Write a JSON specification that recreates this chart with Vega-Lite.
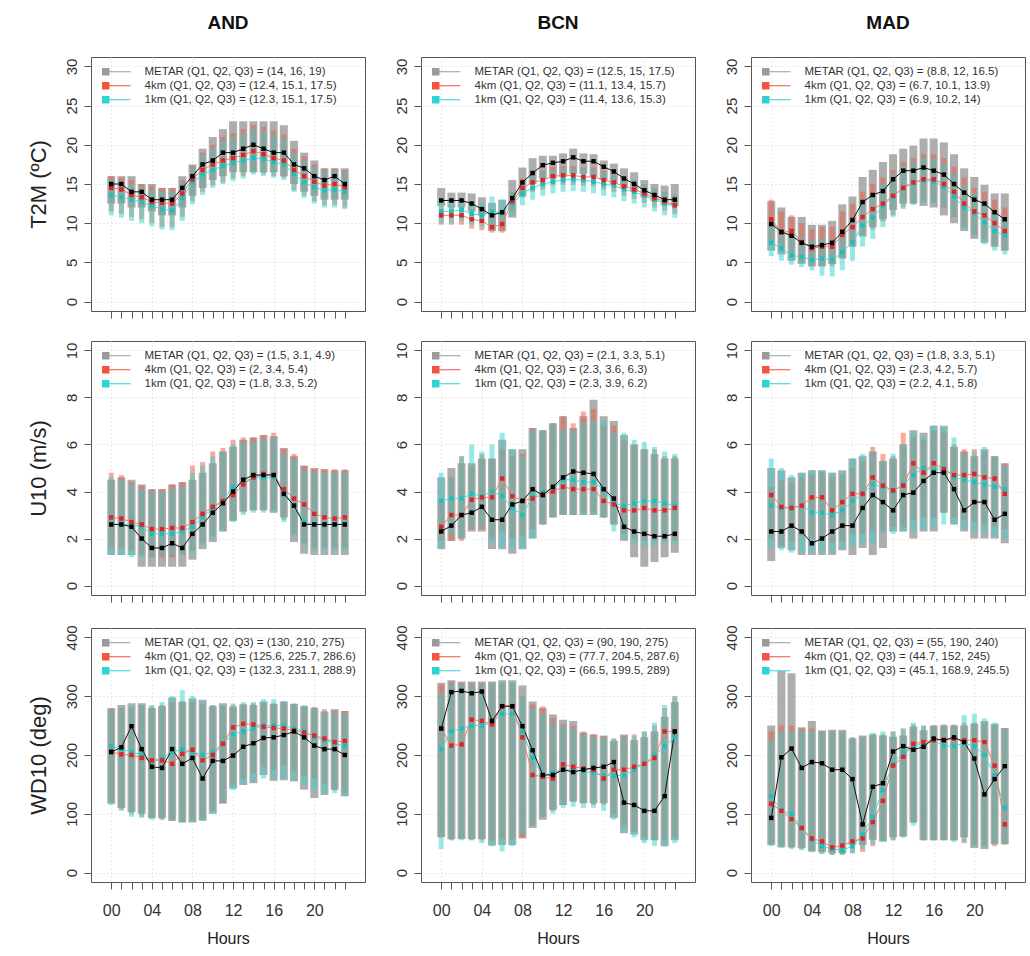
{
"$schema": "https://vega.github.io/schema/vega-lite/v6.json",
"background": "white",
"padding": {"left": 26, "top": 13, "right": 0, "bottom": 0},
"spacing": 21,
"resolve": {"scale": {"color": "independent"}, "legend": {"color": "independent"}},
"datasets": {
"AND_T2M": [
{"hour":0,"obs_q1":12.5,"obs_q2":15,"obs_q3":16,"k4_q1":11.5,"k4_q2":14.5,"k4_q3":16,"k1_q1":11,"k1_q2":13.6,"k1_q3":15.5},
{"hour":1,"obs_q1":12.5,"obs_q2":15,"obs_q3":16,"k4_q1":11.2,"k4_q2":14.3,"k4_q3":15.8,"k1_q1":10.7,"k1_q2":13.3,"k1_q3":15.3},
{"hour":2,"obs_q1":12,"obs_q2":14,"obs_q3":16,"k4_q1":10.8,"k4_q2":13.6,"k4_q3":15.5,"k1_q1":10.3,"k1_q2":13,"k1_q3":15},
{"hour":3,"obs_q1":12,"obs_q2":14,"obs_q3":15,"k4_q1":10.5,"k4_q2":13.3,"k4_q3":15,"k1_q1":10,"k1_q2":12.7,"k1_q3":14.6},
{"hour":4,"obs_q1":11.5,"obs_q2":13,"obs_q3":15,"k4_q1":10,"k4_q2":12.7,"k4_q3":14.8,"k1_q1":9.6,"k1_q2":12.2,"k1_q3":14.3},
{"hour":5,"obs_q1":11,"obs_q2":13,"obs_q3":14.5,"k4_q1":9.5,"k4_q2":12.6,"k4_q3":14.5,"k1_q1":9.2,"k1_q2":11.8,"k1_q3":14},
{"hour":6,"obs_q1":11,"obs_q2":13,"obs_q3":14.5,"k4_q1":9.5,"k4_q2":12.5,"k4_q3":14.5,"k1_q1":9.1,"k1_q2":11.6,"k1_q3":14},
{"hour":7,"obs_q1":12,"obs_q2":14.5,"obs_q3":16,"k4_q1":10.8,"k4_q2":13.8,"k4_q3":15.5,"k1_q1":10.3,"k1_q2":13.2,"k1_q3":15.2},
{"hour":8,"obs_q1":13.5,"obs_q2":16,"obs_q3":17.5,"k4_q1":12.8,"k4_q2":15.6,"k4_q3":17.3,"k1_q1":12.4,"k1_q2":15.2,"k1_q3":17},
{"hour":9,"obs_q1":14.5,"obs_q2":17.5,"obs_q3":19.5,"k4_q1":14,"k4_q2":16.8,"k4_q3":19,"k1_q1":13.6,"k1_q2":16.2,"k1_q3":18.7},
{"hour":10,"obs_q1":15.5,"obs_q2":18,"obs_q3":21,"k4_q1":14.8,"k4_q2":17.5,"k4_q3":20,"k1_q1":14.5,"k1_q2":16.8,"k1_q3":19.6},
{"hour":11,"obs_q1":16,"obs_q2":19,"obs_q3":22,"k4_q1":15.2,"k4_q2":18,"k4_q3":21,"k1_q1":15,"k1_q2":17.3,"k1_q3":20.5},
{"hour":12,"obs_q1":16.5,"obs_q2":19,"obs_q3":23,"k4_q1":15.7,"k4_q2":18.3,"k4_q3":21.5,"k1_q1":15.4,"k1_q2":17.7,"k1_q3":21},
{"hour":13,"obs_q1":16.5,"obs_q2":19.5,"obs_q3":23,"k4_q1":16,"k4_q2":18.7,"k4_q3":22,"k1_q1":15.7,"k1_q2":18,"k1_q3":21.5},
{"hour":14,"obs_q1":16.5,"obs_q2":20,"obs_q3":23,"k4_q1":16.5,"k4_q2":19.2,"k4_q3":22.5,"k1_q1":16.2,"k1_q2":18.3,"k1_q3":22},
{"hour":15,"obs_q1":16.5,"obs_q2":19.5,"obs_q3":23,"k4_q1":16.3,"k4_q2":18.8,"k4_q3":22.3,"k1_q1":16,"k1_q2":18.2,"k1_q3":21.8},
{"hour":16,"obs_q1":16.5,"obs_q2":19,"obs_q3":23,"k4_q1":16,"k4_q2":18.3,"k4_q3":21.8,"k1_q1":15.8,"k1_q2":17.8,"k1_q3":21.3},
{"hour":17,"obs_q1":16,"obs_q2":19,"obs_q3":22.5,"k4_q1":15.8,"k4_q2":18,"k4_q3":21.3,"k1_q1":15.5,"k1_q2":17.5,"k1_q3":20.8},
{"hour":18,"obs_q1":15,"obs_q2":17.5,"obs_q3":20.5,"k4_q1":14.2,"k4_q2":16.8,"k4_q3":19.5,"k1_q1":14,"k1_q2":16.3,"k1_q3":19},
{"hour":19,"obs_q1":14,"obs_q2":17,"obs_q3":19,"k4_q1":13.5,"k4_q2":16,"k4_q3":18.5,"k1_q1":13.2,"k1_q2":15.2,"k1_q3":18},
{"hour":20,"obs_q1":13.5,"obs_q2":16,"obs_q3":18,"k4_q1":12.8,"k4_q2":15.3,"k4_q3":17.5,"k1_q1":12.5,"k1_q2":14.6,"k1_q3":17.2},
{"hour":21,"obs_q1":13,"obs_q2":15.5,"obs_q3":17,"k4_q1":12.3,"k4_q2":14.8,"k4_q3":17,"k1_q1":12,"k1_q2":14.2,"k1_q3":16.7},
{"hour":22,"obs_q1":13,"obs_q2":16,"obs_q3":17,"k4_q1":12.3,"k4_q2":15,"k4_q3":17,"k1_q1":12,"k1_q2":14.3,"k1_q3":16.7},
{"hour":23,"obs_q1":13,"obs_q2":15,"obs_q3":17,"k4_q1":12,"k4_q2":14.6,"k4_q3":16.8,"k1_q1":11.8,"k1_q2":14,"k1_q3":16.5}
],
"BCN_T2M": [
{"hour":0,"obs_q1":12.2,"obs_q2":12.9,"obs_q3":14.5,"k4_q1":9.8,"k4_q2":11,"k4_q3":12.2,"k1_q1":10,"k1_q2":11.5,"k1_q3":13},
{"hour":1,"obs_q1":12,"obs_q2":12.9,"obs_q3":13.9,"k4_q1":9.8,"k4_q2":11,"k4_q3":12.2,"k1_q1":10,"k1_q2":11.5,"k1_q3":13},
{"hour":2,"obs_q1":12,"obs_q2":12.9,"obs_q3":13.9,"k4_q1":9.8,"k4_q2":11,"k4_q3":12.2,"k1_q1":10.2,"k1_q2":11.7,"k1_q3":13.2},
{"hour":3,"obs_q1":11.5,"obs_q2":12.5,"obs_q3":13.8,"k4_q1":9.3,"k4_q2":10.5,"k4_q3":11.8,"k1_q1":9.8,"k1_q2":11.2,"k1_q3":12.8},
{"hour":4,"obs_q1":11,"obs_q2":11.8,"obs_q3":13.3,"k4_q1":9.1,"k4_q2":10.3,"k4_q3":11.6,"k1_q1":9.5,"k1_q2":11,"k1_q3":12.6},
{"hour":5,"obs_q1":9,"obs_q2":11,"obs_q3":12.6,"k4_q1":8.8,"k4_q2":9.5,"k4_q3":11,"k1_q1":9.8,"k1_q2":11.5,"k1_q3":13.4},
{"hour":6,"obs_q1":9,"obs_q2":11.4,"obs_q3":13,"k4_q1":8.8,"k4_q2":9.9,"k4_q3":11.3,"k1_q1":9.6,"k1_q2":11.3,"k1_q3":13},
{"hour":7,"obs_q1":10.7,"obs_q2":13.2,"obs_q3":15.5,"k4_q1":11.5,"k4_q2":12.8,"k4_q3":14,"k1_q1":11,"k1_q2":12.5,"k1_q3":14},
{"hour":8,"obs_q1":13.4,"obs_q2":15.2,"obs_q3":17.1,"k4_q1":13.3,"k4_q2":14.5,"k4_q3":15.7,"k1_q1":12.3,"k1_q2":13.8,"k1_q3":15.3},
{"hour":9,"obs_q1":15,"obs_q2":16.4,"obs_q3":18.3,"k4_q1":14,"k4_q2":15.2,"k4_q3":16.4,"k1_q1":13,"k1_q2":14.5,"k1_q3":16},
{"hour":10,"obs_q1":15.7,"obs_q2":17.4,"obs_q3":18.6,"k4_q1":14.3,"k4_q2":15.5,"k4_q3":16.7,"k1_q1":13.5,"k1_q2":15,"k1_q3":16.5},
{"hour":11,"obs_q1":15.7,"obs_q2":17.7,"obs_q3":18.6,"k4_q1":14.8,"k4_q2":16,"k4_q3":17.2,"k1_q1":13.8,"k1_q2":15.3,"k1_q3":16.8},
{"hour":12,"obs_q1":15.9,"obs_q2":17.9,"obs_q3":18.9,"k4_q1":14.9,"k4_q2":16.1,"k4_q3":17.3,"k1_q1":14,"k1_q2":15.5,"k1_q3":17},
{"hour":13,"obs_q1":16.3,"obs_q2":18.4,"obs_q3":19.5,"k4_q1":14.9,"k4_q2":16.1,"k4_q3":17.3,"k1_q1":14.1,"k1_q2":15.6,"k1_q3":17.1},
{"hour":14,"obs_q1":16.3,"obs_q2":17.9,"obs_q3":18.9,"k4_q1":14.8,"k4_q2":15.9,"k4_q3":17.1,"k1_q1":14,"k1_q2":15.5,"k1_q3":17},
{"hour":15,"obs_q1":15.9,"obs_q2":17.9,"obs_q3":18.8,"k4_q1":14.7,"k4_q2":15.9,"k4_q3":17.1,"k1_q1":13.8,"k1_q2":15.3,"k1_q3":16.8},
{"hour":16,"obs_q1":15.5,"obs_q2":17.2,"obs_q3":18,"k4_q1":14.3,"k4_q2":15.5,"k4_q3":16.7,"k1_q1":13.5,"k1_q2":15,"k1_q3":16.5},
{"hour":17,"obs_q1":15,"obs_q2":16.6,"obs_q3":17.6,"k4_q1":14,"k4_q2":15.2,"k4_q3":16.4,"k1_q1":13.3,"k1_q2":14.8,"k1_q3":16.3},
{"hour":18,"obs_q1":14.5,"obs_q2":15.7,"obs_q3":17,"k4_q1":13.5,"k4_q2":14.7,"k4_q3":15.9,"k1_q1":12.8,"k1_q2":14.3,"k1_q3":15.8},
{"hour":19,"obs_q1":14,"obs_q2":15,"obs_q3":16.5,"k4_q1":13.1,"k4_q2":14.3,"k4_q3":15.5,"k1_q1":12.5,"k1_q2":14,"k1_q3":15.5},
{"hour":20,"obs_q1":13.3,"obs_q2":14.2,"obs_q3":15.5,"k4_q1":12.6,"k4_q2":13.8,"k4_q3":15,"k1_q1":12,"k1_q2":13.5,"k1_q3":15},
{"hour":21,"obs_q1":12.8,"obs_q2":13.6,"obs_q3":15,"k4_q1":12,"k4_q2":13.2,"k4_q3":14.5,"k1_q1":11.5,"k1_q2":13,"k1_q3":14.5},
{"hour":22,"obs_q1":12.3,"obs_q2":13,"obs_q3":14.8,"k4_q1":11.6,"k4_q2":12.8,"k4_q3":14,"k1_q1":11,"k1_q2":12.5,"k1_q3":14},
{"hour":23,"obs_q1":12.2,"obs_q2":13,"obs_q3":15,"k4_q1":11.2,"k4_q2":12.3,"k4_q3":13.6,"k1_q1":10.7,"k1_q2":12.2,"k1_q3":13.7}
],
"MAD_T2M": [
{"hour":0,"obs_q1":6.5,"obs_q2":9.9,"obs_q3":12.8,"k4_q1":7.5,"k4_q2":10.5,"k4_q3":13,"k1_q1":5.8,"k1_q2":7.5,"k1_q3":10},
{"hour":1,"obs_q1":6,"obs_q2":8.9,"obs_q3":12,"k4_q1":6.3,"k4_q2":8.8,"k4_q3":11.5,"k1_q1":5.2,"k1_q2":6.8,"k1_q3":9.3},
{"hour":2,"obs_q1":5.2,"obs_q2":8.4,"obs_q3":10.8,"k4_q1":6,"k4_q2":9,"k4_q3":11,"k1_q1":4.7,"k1_q2":5.9,"k1_q3":8.5},
{"hour":3,"obs_q1":4.8,"obs_q2":7.5,"obs_q3":10.8,"k4_q1":5,"k4_q2":7.6,"k4_q3":10,"k1_q1":4.4,"k1_q2":5.7,"k1_q3":8.2},
{"hour":4,"obs_q1":4.5,"obs_q2":7,"obs_q3":9.8,"k4_q1":4.5,"k4_q2":6.8,"k4_q3":9.2,"k1_q1":4,"k1_q2":5.3,"k1_q3":7.8},
{"hour":5,"obs_q1":4.5,"obs_q2":7.2,"obs_q3":9.8,"k4_q1":4.5,"k4_q2":7,"k4_q3":9.5,"k1_q1":3.3,"k1_q2":5.5,"k1_q3":8},
{"hour":6,"obs_q1":4.8,"obs_q2":7.5,"obs_q3":10.3,"k4_q1":4.5,"k4_q2":7,"k4_q3":9.5,"k1_q1":3.2,"k1_q2":5.3,"k1_q3":7.8},
{"hour":7,"obs_q1":5.5,"obs_q2":8.9,"obs_q3":12.4,"k4_q1":5.5,"k4_q2":8.5,"k4_q3":11.5,"k1_q1":4,"k1_q2":6.3,"k1_q3":9},
{"hour":8,"obs_q1":7,"obs_q2":10.4,"obs_q3":13.4,"k4_q1":7,"k4_q2":9.5,"k4_q3":12.5,"k1_q1":5.2,"k1_q2":7.6,"k1_q3":10.3},
{"hour":9,"obs_q1":8.3,"obs_q2":12.7,"obs_q3":15.9,"k4_q1":8.5,"k4_q2":10.8,"k4_q3":14,"k1_q1":7,"k1_q2":9.7,"k1_q3":12.5},
{"hour":10,"obs_q1":9.5,"obs_q2":13.6,"obs_q3":16.8,"k4_q1":9.2,"k4_q2":11.8,"k4_q3":15,"k1_q1":8,"k1_q2":10.7,"k1_q3":13.5},
{"hour":11,"obs_q1":10.5,"obs_q2":14.1,"obs_q3":17.8,"k4_q1":10.2,"k4_q2":12.5,"k4_q3":15.8,"k1_q1":9.5,"k1_q2":12.2,"k1_q3":15},
{"hour":12,"obs_q1":11.7,"obs_q2":15.6,"obs_q3":18.8,"k4_q1":11,"k4_q2":13.5,"k4_q3":16.8,"k1_q1":10.8,"k1_q2":13.4,"k1_q3":16.3},
{"hour":13,"obs_q1":12.5,"obs_q2":16.7,"obs_q3":19.5,"k4_q1":12,"k4_q2":14.5,"k4_q3":17.8,"k1_q1":11.8,"k1_q2":14.5,"k1_q3":17.3},
{"hour":14,"obs_q1":12.5,"obs_q2":16.7,"obs_q3":19.9,"k4_q1":12.5,"k4_q2":15.2,"k4_q3":18.3,"k1_q1":12.3,"k1_q2":15.1,"k1_q3":17.8},
{"hour":15,"obs_q1":12.2,"obs_q2":17.1,"obs_q3":20.8,"k4_q1":12.8,"k4_q2":15.6,"k4_q3":18.8,"k1_q1":12.6,"k1_q2":15.5,"k1_q3":18.3},
{"hour":16,"obs_q1":12,"obs_q2":16.7,"obs_q3":20.8,"k4_q1":12.7,"k4_q2":15.6,"k4_q3":18.8,"k1_q1":12.5,"k1_q2":15.3,"k1_q3":18.2},
{"hour":17,"obs_q1":11,"obs_q2":16.2,"obs_q3":20.3,"k4_q1":12,"k4_q2":15,"k4_q3":18.3,"k1_q1":12,"k1_q2":14.7,"k1_q3":17.6},
{"hour":18,"obs_q1":10,"obs_q2":15,"obs_q3":18.8,"k4_q1":10.8,"k4_q2":14,"k4_q3":17.2,"k1_q1":10.8,"k1_q2":13.4,"k1_q3":16.3},
{"hour":19,"obs_q1":9,"obs_q2":13.9,"obs_q3":17,"k4_q1":9.5,"k4_q2":12.5,"k4_q3":15.8,"k1_q1":9.3,"k1_q2":12,"k1_q3":14.8},
{"hour":20,"obs_q1":8,"obs_q2":13,"obs_q3":15.9,"k4_q1":8.5,"k4_q2":11.5,"k4_q3":14.5,"k1_q1":8.3,"k1_q2":11.3,"k1_q3":13.8},
{"hour":21,"obs_q1":7.5,"obs_q2":12.5,"obs_q3":14.9,"k4_q1":8,"k4_q2":11,"k4_q3":14,"k1_q1":7.3,"k1_q2":10.1,"k1_q3":12.6},
{"hour":22,"obs_q1":7,"obs_q2":11.4,"obs_q3":13.8,"k4_q1":7,"k4_q2":10,"k4_q3":13,"k1_q1":6.5,"k1_q2":9,"k1_q3":11.5},
{"hour":23,"obs_q1":6.5,"obs_q2":10.5,"obs_q3":13.8,"k4_q1":6.5,"k4_q2":9,"k4_q3":12,"k1_q1":6,"k1_q2":8.4,"k1_q3":10.8}
],
"AND_U10": [
{"hour":0,"obs_q1":1.3,"obs_q2":2.6,"obs_q3":4.5,"k4_q1":1.6,"k4_q2":2.9,"k4_q3":4.8,"k1_q1":1.3,"k1_q2":2.6,"k1_q3":4.6},
{"hour":1,"obs_q1":1.3,"obs_q2":2.6,"obs_q3":4.6,"k4_q1":1.6,"k4_q2":2.85,"k4_q3":4.7,"k1_q1":1.3,"k1_q2":2.6,"k1_q3":4.5},
{"hour":2,"obs_q1":1.3,"obs_q2":2.5,"obs_q3":4.5,"k4_q1":1.5,"k4_q2":2.7,"k4_q3":4.4,"k1_q1":1.2,"k1_q2":2.6,"k1_q3":4.3},
{"hour":3,"obs_q1":0.8,"obs_q2":2,"obs_q3":4.3,"k4_q1":1.3,"k4_q2":2.6,"k4_q3":4.25,"k1_q1":1.2,"k1_q2":2.5,"k1_q3":4.1},
{"hour":4,"obs_q1":0.8,"obs_q2":1.6,"obs_q3":4.1,"k4_q1":1.2,"k4_q2":2.4,"k4_q3":4.1,"k1_q1":1.2,"k1_q2":2.2,"k1_q3":4},
{"hour":5,"obs_q1":0.8,"obs_q2":1.6,"obs_q3":4.1,"k4_q1":1.2,"k4_q2":2.4,"k4_q3":4.1,"k1_q1":1.3,"k1_q2":2.2,"k1_q3":4},
{"hour":6,"obs_q1":0.8,"obs_q2":1.8,"obs_q3":4.3,"k4_q1":1.2,"k4_q2":2.45,"k4_q3":4.3,"k1_q1":1.3,"k1_q2":2.2,"k1_q3":4.1},
{"hour":7,"obs_q1":0.8,"obs_q2":1.6,"obs_q3":4.4,"k4_q1":1.3,"k4_q2":2.45,"k4_q3":4.4,"k1_q1":1.3,"k1_q2":2.3,"k1_q3":4.2},
{"hour":8,"obs_q1":1.1,"obs_q2":2.2,"obs_q3":4.5,"k4_q1":1.5,"k4_q2":2.7,"k4_q3":5.1,"k1_q1":1.4,"k1_q2":2.5,"k1_q3":4.8},
{"hour":9,"obs_q1":1.55,"obs_q2":2.6,"obs_q3":4.8,"k4_q1":1.8,"k4_q2":3.05,"k4_q3":5.25,"k1_q1":1.7,"k1_q2":2.9,"k1_q3":5.1},
{"hour":10,"obs_q1":1.85,"obs_q2":3.1,"obs_q3":5.2,"k4_q1":2.1,"k4_q2":3.35,"k4_q3":5.7,"k1_q1":2,"k1_q2":3.3,"k1_q3":5.5},
{"hour":11,"obs_q1":2.3,"obs_q2":3.5,"obs_q3":5.7,"k4_q1":2.4,"k4_q2":3.6,"k4_q3":5.85,"k1_q1":2.3,"k1_q2":3.6,"k1_q3":5.7},
{"hour":12,"obs_q1":2.75,"obs_q2":4,"obs_q3":5.9,"k4_q1":2.8,"k4_q2":3.85,"k4_q3":6.2,"k1_q1":2.7,"k1_q2":4.2,"k1_q3":6},
{"hour":13,"obs_q1":3.15,"obs_q2":4.5,"obs_q3":6.2,"k4_q1":3.1,"k4_q2":4.3,"k4_q3":6.3,"k1_q1":3,"k1_q2":4.4,"k1_q3":6.1},
{"hour":14,"obs_q1":3.2,"obs_q2":4.7,"obs_q3":6.3,"k4_q1":3.2,"k4_q2":4.6,"k4_q3":6.3,"k1_q1":3.1,"k1_q2":4.6,"k1_q3":6.1},
{"hour":15,"obs_q1":3.2,"obs_q2":4.7,"obs_q3":6.4,"k4_q1":3.2,"k4_q2":4.75,"k4_q3":6.4,"k1_q1":3.1,"k1_q2":4.6,"k1_q3":6.2},
{"hour":16,"obs_q1":3.1,"obs_q2":4.7,"obs_q3":6.35,"k4_q1":3.2,"k4_q2":4.7,"k4_q3":6.5,"k1_q1":3.1,"k1_q2":4.6,"k1_q3":6.3},
{"hour":17,"obs_q1":2.9,"obs_q2":3.9,"obs_q3":5.85,"k4_q1":2.8,"k4_q2":4.1,"k4_q3":5.8,"k1_q1":2.7,"k1_q2":4,"k1_q3":5.6},
{"hour":18,"obs_q1":1.85,"obs_q2":3.4,"obs_q3":5.5,"k4_q1":2.2,"k4_q2":3.7,"k4_q3":5.6,"k1_q1":2.1,"k1_q2":3.4,"k1_q3":5.4},
{"hour":19,"obs_q1":1.35,"obs_q2":2.6,"obs_q3":5.1,"k4_q1":1.8,"k4_q2":3.45,"k4_q3":5.1,"k1_q1":1.7,"k1_q2":2.7,"k1_q3":4.9},
{"hour":20,"obs_q1":1.3,"obs_q2":2.6,"obs_q3":5,"k4_q1":1.6,"k4_q2":3.05,"k4_q3":4.95,"k1_q1":1.5,"k1_q2":2.6,"k1_q3":4.8},
{"hour":21,"obs_q1":1.3,"obs_q2":2.6,"obs_q3":4.95,"k4_q1":1.6,"k4_q2":2.9,"k4_q3":4.95,"k1_q1":1.5,"k1_q2":2.6,"k1_q3":4.8},
{"hour":22,"obs_q1":1.3,"obs_q2":2.6,"obs_q3":4.9,"k4_q1":1.6,"k4_q2":2.85,"k4_q3":4.95,"k1_q1":1.5,"k1_q2":2.6,"k1_q3":4.8},
{"hour":23,"obs_q1":1.3,"obs_q2":2.6,"obs_q3":4.9,"k4_q1":1.6,"k4_q2":2.9,"k4_q3":4.95,"k1_q1":1.5,"k1_q2":2.6,"k1_q3":4.8}
],
"BCN_U10": [
{"hour":0,"obs_q1":1.55,"obs_q2":2.3,"obs_q3":4.6,"k4_q1":1.9,"k4_q2":2.5,"k4_q3":3.5,"k1_q1":1.6,"k1_q2":3.6,"k1_q3":4.8},
{"hour":1,"obs_q1":1.9,"obs_q2":2.55,"obs_q3":5,"k4_q1":1.9,"k4_q2":3,"k4_q3":4.6,"k1_q1":2.2,"k1_q2":3.7,"k1_q3":4.6},
{"hour":2,"obs_q1":2,"obs_q2":3,"obs_q3":5.2,"k4_q1":1.9,"k4_q2":3,"k4_q3":5.5,"k1_q1":2,"k1_q2":3.7,"k1_q3":5.5},
{"hour":3,"obs_q1":2.3,"obs_q2":3.1,"obs_q3":5.2,"k4_q1":2.4,"k4_q2":3.65,"k4_q3":5.1,"k1_q1":2.5,"k1_q2":3.9,"k1_q3":6},
{"hour":4,"obs_q1":2.3,"obs_q2":3.35,"obs_q3":5.4,"k4_q1":2.4,"k4_q2":3.75,"k4_q3":5.6,"k1_q1":2.5,"k1_q2":3.8,"k1_q3":5.7},
{"hour":5,"obs_q1":1.55,"obs_q2":2.8,"obs_q3":5.4,"k4_q1":2,"k4_q2":3.75,"k4_q3":5.4,"k1_q1":1.8,"k1_q2":4,"k1_q3":6},
{"hour":6,"obs_q1":1.55,"obs_q2":2.8,"obs_q3":6.2,"k4_q1":2.3,"k4_q2":4.55,"k4_q3":5.8,"k1_q1":1.6,"k1_q2":3.8,"k1_q3":6.5},
{"hour":7,"obs_q1":1.35,"obs_q2":3.45,"obs_q3":5.8,"k4_q1":2,"k4_q2":3.8,"k4_q3":5.5,"k1_q1":1.6,"k1_q2":3.3,"k1_q3":5.8},
{"hour":8,"obs_q1":1.55,"obs_q2":3.6,"obs_q3":5.8,"k4_q1":2.1,"k4_q2":3.6,"k4_q3":5.6,"k1_q1":1.6,"k1_q2":3,"k1_q3":5.5},
{"hour":9,"obs_q1":2,"obs_q2":4.1,"obs_q3":6.7,"k4_q1":2.4,"k4_q2":3.7,"k4_q3":6.7,"k1_q1":2,"k1_q2":3.8,"k1_q3":6.6},
{"hour":10,"obs_q1":2.6,"obs_q2":3.85,"obs_q3":6.6,"k4_q1":2.6,"k4_q2":3.9,"k4_q3":6.6,"k1_q1":2.6,"k1_q2":4,"k1_q3":6.6},
{"hour":11,"obs_q1":2.9,"obs_q2":4.2,"obs_q3":6.9,"k4_q1":2.9,"k4_q2":4,"k4_q3":6.9,"k1_q1":2.9,"k1_q2":4.1,"k1_q3":6.9},
{"hour":12,"obs_q1":3,"obs_q2":4.6,"obs_q3":7.2,"k4_q1":3,"k4_q2":4.2,"k4_q3":7.2,"k1_q1":3,"k1_q2":4.5,"k1_q3":6.6},
{"hour":13,"obs_q1":3,"obs_q2":4.85,"obs_q3":6.7,"k4_q1":3,"k4_q2":4.1,"k4_q3":6.9,"k1_q1":3,"k1_q2":4.5,"k1_q3":6.6},
{"hour":14,"obs_q1":3,"obs_q2":4.8,"obs_q3":7.2,"k4_q1":3.1,"k4_q2":4.1,"k4_q3":7.4,"k1_q1":3,"k1_q2":4.4,"k1_q3":6.9},
{"hour":15,"obs_q1":3,"obs_q2":4.75,"obs_q3":7.9,"k4_q1":3.1,"k4_q2":4.1,"k4_q3":7.5,"k1_q1":3,"k1_q2":4.4,"k1_q3":7},
{"hour":16,"obs_q1":2.9,"obs_q2":4.1,"obs_q3":7.2,"k4_q1":2.9,"k4_q2":3.6,"k4_q3":6.8,"k1_q1":2.9,"k1_q2":4.1,"k1_q3":7},
{"hour":17,"obs_q1":2.6,"obs_q2":3.7,"obs_q3":7,"k4_q1":2.6,"k4_q2":3.45,"k4_q3":6.8,"k1_q1":2.3,"k1_q2":3.5,"k1_q3":6.5},
{"hour":18,"obs_q1":1.9,"obs_q2":2.5,"obs_q3":6.4,"k4_q1":2.2,"k4_q2":3.2,"k4_q3":6.2,"k1_q1":2,"k1_q2":3.4,"k1_q3":6.5},
{"hour":19,"obs_q1":1.2,"obs_q2":2.3,"obs_q3":6,"k4_q1":2,"k4_q2":3.2,"k4_q3":6,"k1_q1":1.8,"k1_q2":3.5,"k1_q3":6.2},
{"hour":20,"obs_q1":0.8,"obs_q2":2.2,"obs_q3":5.8,"k4_q1":1.9,"k4_q2":3.3,"k4_q3":5.8,"k1_q1":1.7,"k1_q2":3.6,"k1_q3":6.1},
{"hour":21,"obs_q1":1,"obs_q2":2.1,"obs_q3":5.6,"k4_q1":1.9,"k4_q2":3.2,"k4_q3":5.8,"k1_q1":1.7,"k1_q2":3.6,"k1_q3":5.9},
{"hour":22,"obs_q1":1.2,"obs_q2":2.1,"obs_q3":5.4,"k4_q1":1.9,"k4_q2":3.2,"k4_q3":5.5,"k1_q1":1.8,"k1_q2":3.5,"k1_q3":5.7},
{"hour":23,"obs_q1":1.4,"obs_q2":2.2,"obs_q3":5.4,"k4_q1":1.9,"k4_q2":3.3,"k4_q3":5.5,"k1_q1":1.8,"k1_q2":3.4,"k1_q3":5.6}
],
"MAD_U10": [
{"hour":0,"obs_q1":1.05,"obs_q2":2.3,"obs_q3":5,"k4_q1":2,"k4_q2":3.85,"k4_q3":4.2,"k1_q1":1.6,"k1_q2":3.4,"k1_q3":5.4},
{"hour":1,"obs_q1":1.6,"obs_q2":2.3,"obs_q3":4.9,"k4_q1":1.7,"k4_q2":3.35,"k4_q3":4.5,"k1_q1":1.5,"k1_q2":3.3,"k1_q3":5},
{"hour":2,"obs_q1":1.5,"obs_q2":2.55,"obs_q3":4.6,"k4_q1":1.9,"k4_q2":3.3,"k4_q3":4.4,"k1_q1":1.4,"k1_q2":3.3,"k1_q3":4.7},
{"hour":3,"obs_q1":1.3,"obs_q2":2.3,"obs_q3":4.8,"k4_q1":2.1,"k4_q2":3.4,"k4_q3":4.6,"k1_q1":1.4,"k1_q2":3.4,"k1_q3":4.8},
{"hour":4,"obs_q1":1.3,"obs_q2":1.8,"obs_q3":4.9,"k4_q1":2,"k4_q2":3.75,"k4_q3":4.7,"k1_q1":1.4,"k1_q2":3.1,"k1_q3":4.9},
{"hour":5,"obs_q1":1.3,"obs_q2":2,"obs_q3":4.9,"k4_q1":2,"k4_q2":3.75,"k4_q3":4.8,"k1_q1":1.4,"k1_q2":3.1,"k1_q3":4.9},
{"hour":6,"obs_q1":1.3,"obs_q2":2.3,"obs_q3":4.8,"k4_q1":1.8,"k4_q2":3.2,"k4_q3":4.6,"k1_q1":1.4,"k1_q2":3,"k1_q3":4.8},
{"hour":7,"obs_q1":1.5,"obs_q2":2.55,"obs_q3":4.9,"k4_q1":1.9,"k4_q2":3.55,"k4_q3":4.7,"k1_q1":1.6,"k1_q2":3.2,"k1_q3":4.8},
{"hour":8,"obs_q1":1.3,"obs_q2":2.55,"obs_q3":5.4,"k4_q1":2.2,"k4_q2":3.9,"k4_q3":5,"k1_q1":1.7,"k1_q2":3.6,"k1_q3":5.4},
{"hour":9,"obs_q1":1.6,"obs_q2":3.3,"obs_q3":5.5,"k4_q1":2.2,"k4_q2":3.9,"k4_q3":5.3,"k1_q1":1.8,"k1_q2":3.9,"k1_q3":5.6},
{"hour":10,"obs_q1":1.3,"obs_q2":3.85,"obs_q3":5.7,"k4_q1":2.3,"k4_q2":4.6,"k4_q3":5.9,"k1_q1":1.8,"k1_q2":4.3,"k1_q3":5.7},
{"hour":11,"obs_q1":1.6,"obs_q2":3.55,"obs_q3":5.3,"k4_q1":2.3,"k4_q2":4.25,"k4_q3":5.6,"k1_q1":2.2,"k1_q2":4.2,"k1_q3":5.3},
{"hour":12,"obs_q1":2.3,"obs_q2":3.2,"obs_q3":5.4,"k4_q1":2.5,"k4_q2":4.05,"k4_q3":5.5,"k1_q1":2.2,"k1_q2":4,"k1_q3":5.6},
{"hour":13,"obs_q1":2.3,"obs_q2":3.85,"obs_q3":6,"k4_q1":2.5,"k4_q2":4.25,"k4_q3":6.5,"k1_q1":2.3,"k1_q2":4.3,"k1_q3":6},
{"hour":14,"obs_q1":2,"obs_q2":3.95,"obs_q3":6.6,"k4_q1":2.8,"k4_q2":5.2,"k4_q3":6.3,"k1_q1":2.3,"k1_q2":4.7,"k1_q3":6.5},
{"hour":15,"obs_q1":2.3,"obs_q2":4.45,"obs_q3":6.5,"k4_q1":2.9,"k4_q2":4.8,"k4_q3":6.2,"k1_q1":2.4,"k1_q2":5,"k1_q3":6.3},
{"hour":16,"obs_q1":2.3,"obs_q2":4.8,"obs_q3":6.8,"k4_q1":2.9,"k4_q2":5.2,"k4_q3":6.6,"k1_q1":2.5,"k1_q2":4.9,"k1_q3":6.8},
{"hour":17,"obs_q1":3.1,"obs_q2":4.8,"obs_q3":6.8,"k4_q1":3.1,"k4_q2":4.95,"k4_q3":6.5,"k1_q1":2.6,"k1_q2":5,"k1_q3":6.7},
{"hour":18,"obs_q1":2.6,"obs_q2":4.1,"obs_q3":5.9,"k4_q1":2.9,"k4_q2":4.7,"k4_q3":6,"k1_q1":2.6,"k1_q2":4.6,"k1_q3":6.3},
{"hour":19,"obs_q1":2.3,"obs_q2":3.2,"obs_q3":5.7,"k4_q1":2.8,"k4_q2":4.7,"k4_q3":5.8,"k1_q1":2.4,"k1_q2":4.5,"k1_q3":5.6},
{"hour":20,"obs_q1":2,"obs_q2":3.55,"obs_q3":5.5,"k4_q1":2.7,"k4_q2":4.75,"k4_q3":5.8,"k1_q1":2.3,"k1_q2":4.4,"k1_q3":5.7},
{"hour":21,"obs_q1":2,"obs_q2":3.55,"obs_q3":5.8,"k4_q1":2.6,"k4_q2":4.6,"k4_q3":5.7,"k1_q1":2.2,"k1_q2":4.3,"k1_q3":5.9},
{"hour":22,"obs_q1":2,"obs_q2":2.8,"obs_q3":5.5,"k4_q1":2.5,"k4_q2":4.55,"k4_q3":5.5,"k1_q1":2.1,"k1_q2":4.2,"k1_q3":5.5},
{"hour":23,"obs_q1":1.8,"obs_q2":3.05,"obs_q3":5.2,"k4_q1":2.4,"k4_q2":3.9,"k4_q3":5.2,"k1_q1":2,"k1_q2":4.1,"k1_q3":5.1}
],
"AND_WD10": [
{"hour":0,"obs_q1":117,"obs_q2":205,"obs_q3":280,"k4_q1":120,"k4_q2":206,"k4_q3":278,"k1_q1":115,"k1_q2":215,"k1_q3":275},
{"hour":1,"obs_q1":110,"obs_q2":213,"obs_q3":285,"k4_q1":107,"k4_q2":201,"k4_q3":280,"k1_q1":105,"k1_q2":210,"k1_q3":280},
{"hour":2,"obs_q1":103,"obs_q2":249,"obs_q3":288,"k4_q1":100,"k4_q2":200,"k4_q3":280,"k1_q1":95,"k1_q2":205,"k1_q3":283},
{"hour":3,"obs_q1":100,"obs_q2":210,"obs_q3":288,"k4_q1":95,"k4_q2":195,"k4_q3":285,"k1_q1":93,"k1_q2":200,"k1_q3":285},
{"hour":4,"obs_q1":93,"obs_q2":180,"obs_q3":280,"k4_q1":92,"k4_q2":191,"k4_q3":283,"k1_q1":90,"k1_q2":190,"k1_q3":285},
{"hour":5,"obs_q1":93,"obs_q2":178,"obs_q3":283,"k4_q1":90,"k4_q2":191,"k4_q3":285,"k1_q1":90,"k1_q2":195,"k1_q3":290},
{"hour":6,"obs_q1":88,"obs_q2":210,"obs_q3":298,"k4_q1":88,"k4_q2":185,"k4_q3":290,"k1_q1":88,"k1_q2":205,"k1_q3":300},
{"hour":7,"obs_q1":85,"obs_q2":185,"obs_q3":290,"k4_q1":87,"k4_q2":202,"k4_q3":292,"k1_q1":85,"k1_q2":210,"k1_q3":310},
{"hour":8,"obs_q1":85,"obs_q2":195,"obs_q3":296,"k4_q1":89,"k4_q2":209,"k4_q3":290,"k1_q1":86,"k1_q2":205,"k1_q3":300},
{"hour":9,"obs_q1":88,"obs_q2":160,"obs_q3":294,"k4_q1":92,"k4_q2":191,"k4_q3":287,"k1_q1":88,"k1_q2":200,"k1_q3":290},
{"hour":10,"obs_q1":100,"obs_q2":190,"obs_q3":283,"k4_q1":105,"k4_q2":200,"k4_q3":285,"k1_q1":100,"k1_q2":205,"k1_q3":285},
{"hour":11,"obs_q1":117,"obs_q2":190,"obs_q3":288,"k4_q1":119,"k4_q2":219,"k4_q3":283,"k1_q1":120,"k1_q2":220,"k1_q3":285},
{"hour":12,"obs_q1":143,"obs_q2":199,"obs_q3":282,"k4_q1":150,"k4_q2":247,"k4_q3":285,"k1_q1":140,"k1_q2":235,"k1_q3":288},
{"hour":13,"obs_q1":149,"obs_q2":214,"obs_q3":286,"k4_q1":160,"k4_q2":253,"k4_q3":287,"k1_q1":150,"k1_q2":240,"k1_q3":290},
{"hour":14,"obs_q1":152,"obs_q2":220,"obs_q3":285,"k4_q1":168,"k4_q2":252,"k4_q3":288,"k1_q1":155,"k1_q2":245,"k1_q3":290},
{"hour":15,"obs_q1":166,"obs_q2":229,"obs_q3":291,"k4_q1":180,"k4_q2":248,"k4_q3":288,"k1_q1":160,"k1_q2":250,"k1_q3":295},
{"hour":16,"obs_q1":156,"obs_q2":230,"obs_q3":287,"k4_q1":175,"k4_q2":246,"k4_q3":288,"k1_q1":160,"k1_q2":250,"k1_q3":295},
{"hour":17,"obs_q1":157,"obs_q2":234,"obs_q3":291,"k4_q1":182,"k4_q2":245,"k4_q3":290,"k1_q1":160,"k1_q2":250,"k1_q3":292},
{"hour":18,"obs_q1":155,"obs_q2":240,"obs_q3":287,"k4_q1":172,"k4_q2":242,"k4_q3":286,"k1_q1":158,"k1_q2":245,"k1_q3":288},
{"hour":19,"obs_q1":141,"obs_q2":230,"obs_q3":283,"k4_q1":165,"k4_q2":238,"k4_q3":283,"k1_q1":150,"k1_q2":240,"k1_q3":285},
{"hour":20,"obs_q1":127,"obs_q2":216,"obs_q3":280,"k4_q1":160,"k4_q2":233,"k4_q3":282,"k1_q1":140,"k1_q2":230,"k1_q3":280},
{"hour":21,"obs_q1":132,"obs_q2":210,"obs_q3":274,"k4_q1":150,"k4_q2":228,"k4_q3":278,"k1_q1":135,"k1_q2":225,"k1_q3":275},
{"hour":22,"obs_q1":141,"obs_q2":210,"obs_q3":278,"k4_q1":140,"k4_q2":222,"k4_q3":275,"k1_q1":135,"k1_q2":220,"k1_q3":272},
{"hour":23,"obs_q1":130,"obs_q2":200,"obs_q3":275,"k4_q1":135,"k4_q2":224,"k4_q3":275,"k1_q1":130,"k1_q2":215,"k1_q3":270}
],
"BCN_WD10": [
{"hour":0,"obs_q1":60,"obs_q2":245,"obs_q3":323,"k4_q1":60,"k4_q2":245,"k4_q3":320,"k1_q1":40,"k1_q2":210,"k1_q3":305},
{"hour":1,"obs_q1":57,"obs_q2":307,"obs_q3":327,"k4_q1":55,"k4_q2":216,"k4_q3":325,"k1_q1":55,"k1_q2":240,"k1_q3":322},
{"hour":2,"obs_q1":57,"obs_q2":309,"obs_q3":325,"k4_q1":58,"k4_q2":218,"k4_q3":322,"k1_q1":55,"k1_q2":245,"k1_q3":320},
{"hour":3,"obs_q1":57,"obs_q2":305,"obs_q3":325,"k4_q1":55,"k4_q2":260,"k4_q3":322,"k1_q1":55,"k1_q2":250,"k1_q3":320},
{"hour":4,"obs_q1":57,"obs_q2":308,"obs_q3":325,"k4_q1":55,"k4_q2":258,"k4_q3":322,"k1_q1":50,"k1_q2":250,"k1_q3":320},
{"hour":5,"obs_q1":46,"obs_q2":258,"obs_q3":325,"k4_q1":55,"k4_q2":252,"k4_q3":322,"k1_q1":45,"k1_q2":255,"k1_q3":322},
{"hour":6,"obs_q1":47,"obs_q2":283,"obs_q3":327,"k4_q1":57,"k4_q2":283,"k4_q3":322,"k1_q1":36,"k1_q2":270,"k1_q3":325},
{"hour":7,"obs_q1":47,"obs_q2":283,"obs_q3":327,"k4_q1":56,"k4_q2":283,"k4_q3":322,"k1_q1":45,"k1_q2":270,"k1_q3":325},
{"hour":8,"obs_q1":58,"obs_q2":249,"obs_q3":318,"k4_q1":60,"k4_q2":230,"k4_q3":300,"k1_q1":65,"k1_q2":240,"k1_q3":300},
{"hour":9,"obs_q1":76,"obs_q2":208,"obs_q3":291,"k4_q1":80,"k4_q2":166,"k4_q3":286,"k1_q1":80,"k1_q2":195,"k1_q3":280},
{"hour":10,"obs_q1":90,"obs_q2":166,"obs_q3":280,"k4_q1":95,"k4_q2":163,"k4_q3":283,"k1_q1":95,"k1_q2":165,"k1_q3":270},
{"hour":11,"obs_q1":107,"obs_q2":166,"obs_q3":269,"k4_q1":105,"k4_q2":160,"k4_q3":263,"k1_q1":100,"k1_q2":170,"k1_q3":255},
{"hour":12,"obs_q1":115,"obs_q2":175,"obs_q3":260,"k4_q1":115,"k4_q2":184,"k4_q3":252,"k1_q1":110,"k1_q2":175,"k1_q3":250},
{"hour":13,"obs_q1":121,"obs_q2":171,"obs_q3":258,"k4_q1":120,"k4_q2":180,"k4_q3":250,"k1_q1":112,"k1_q2":175,"k1_q3":245},
{"hour":14,"obs_q1":118,"obs_q2":175,"obs_q3":238,"k4_q1":118,"k4_q2":177,"k4_q3":240,"k1_q1":110,"k1_q2":172,"k1_q3":235},
{"hour":15,"obs_q1":118,"obs_q2":178,"obs_q3":235,"k4_q1":115,"k4_q2":175,"k4_q3":235,"k1_q1":110,"k1_q2":170,"k1_q3":230},
{"hour":16,"obs_q1":118,"obs_q2":180,"obs_q3":233,"k4_q1":115,"k4_q2":160,"k4_q3":232,"k1_q1":105,"k1_q2":165,"k1_q3":230},
{"hour":17,"obs_q1":93,"obs_q2":188,"obs_q3":224,"k4_q1":100,"k4_q2":175,"k4_q3":228,"k1_q1":90,"k1_q2":165,"k1_q3":228},
{"hour":18,"obs_q1":67,"obs_q2":119,"obs_q3":235,"k4_q1":80,"k4_q2":175,"k4_q3":232,"k1_q1":70,"k1_q2":165,"k1_q3":230},
{"hour":19,"obs_q1":65,"obs_q2":115,"obs_q3":225,"k4_q1":70,"k4_q2":180,"k4_q3":235,"k1_q1":60,"k1_q2":175,"k1_q3":232},
{"hour":20,"obs_q1":55,"obs_q2":105,"obs_q3":230,"k4_q1":60,"k4_q2":185,"k4_q3":240,"k1_q1":50,"k1_q2":185,"k1_q3":240},
{"hour":21,"obs_q1":55,"obs_q2":105,"obs_q3":240,"k4_q1":55,"k4_q2":195,"k4_q3":250,"k1_q1":45,"k1_q2":200,"k1_q3":255},
{"hour":22,"obs_q1":45,"obs_q2":130,"obs_q3":265,"k4_q1":55,"k4_q2":240,"k4_q3":280,"k1_q1":45,"k1_q2":215,"k1_q3":285},
{"hour":23,"obs_q1":55,"obs_q2":240,"obs_q3":290,"k4_q1":60,"k4_q2":240,"k4_q3":300,"k1_q1":50,"k1_q2":230,"k1_q3":300}
],
"MAD_WD10": [
{"hour":0,"obs_q1":47,"obs_q2":93,"obs_q3":250,"k4_q1":48,"k4_q2":117,"k4_q3":240,"k1_q1":45,"k1_q2":130,"k1_q3":225},
{"hour":1,"obs_q1":43,"obs_q2":196,"obs_q3":343,"k4_q1":45,"k4_q2":105,"k4_q3":250,"k1_q1":42,"k1_q2":105,"k1_q3":240},
{"hour":2,"obs_q1":43,"obs_q2":211,"obs_q3":339,"k4_q1":42,"k4_q2":91,"k4_q3":250,"k1_q1":40,"k1_q2":100,"k1_q3":240},
{"hour":3,"obs_q1":42,"obs_q2":178,"obs_q3":247,"k4_q1":40,"k4_q2":76,"k4_q3":245,"k1_q1":38,"k1_q2":75,"k1_q3":240},
{"hour":4,"obs_q1":36,"obs_q2":188,"obs_q3":258,"k4_q1":36,"k4_q2":58,"k4_q3":245,"k1_q1":35,"k1_q2":55,"k1_q3":240},
{"hour":5,"obs_q1":35,"obs_q2":186,"obs_q3":242,"k4_q1":32,"k4_q2":53,"k4_q3":240,"k1_q1":32,"k1_q2":45,"k1_q3":240},
{"hour":6,"obs_q1":33,"obs_q2":175,"obs_q3":243,"k4_q1":30,"k4_q2":43,"k4_q3":240,"k1_q1":30,"k1_q2":40,"k1_q3":240},
{"hour":7,"obs_q1":33,"obs_q2":175,"obs_q3":243,"k4_q1":30,"k4_q2":46,"k4_q3":240,"k1_q1":30,"k1_q2":38,"k1_q3":240},
{"hour":8,"obs_q1":47,"obs_q2":159,"obs_q3":228,"k4_q1":33,"k4_q2":53,"k4_q3":230,"k1_q1":33,"k1_q2":45,"k1_q3":230},
{"hour":9,"obs_q1":47,"obs_q2":82,"obs_q3":233,"k4_q1":35,"k4_q2":58,"k4_q3":230,"k1_q1":40,"k1_q2":65,"k1_q3":230},
{"hour":10,"obs_q1":56,"obs_q2":146,"obs_q3":235,"k4_q1":45,"k4_q2":86,"k4_q3":235,"k1_q1":48,"k1_q2":95,"k1_q3":238},
{"hour":11,"obs_q1":53,"obs_q2":152,"obs_q3":233,"k4_q1":55,"k4_q2":122,"k4_q3":235,"k1_q1":52,"k1_q2":140,"k1_q3":240},
{"hour":12,"obs_q1":60,"obs_q2":206,"obs_q3":231,"k4_q1":55,"k4_q2":182,"k4_q3":240,"k1_q1":55,"k1_q2":185,"k1_q3":240},
{"hour":13,"obs_q1":62,"obs_q2":215,"obs_q3":233,"k4_q1":60,"k4_q2":197,"k4_q3":245,"k1_q1":60,"k1_q2":205,"k1_q3":245},
{"hour":14,"obs_q1":85,"obs_q2":209,"obs_q3":248,"k4_q1":85,"k4_q2":219,"k4_q3":252,"k1_q1":80,"k1_q2":215,"k1_q3":255},
{"hour":15,"obs_q1":55,"obs_q2":214,"obs_q3":242,"k4_q1":55,"k4_q2":222,"k4_q3":250,"k1_q1":55,"k1_q2":220,"k1_q3":250},
{"hour":16,"obs_q1":55,"obs_q2":228,"obs_q3":250,"k4_q1":55,"k4_q2":225,"k4_q3":250,"k1_q1":55,"k1_q2":225,"k1_q3":250},
{"hour":17,"obs_q1":55,"obs_q2":225,"obs_q3":250,"k4_q1":55,"k4_q2":226,"k4_q3":252,"k1_q1":55,"k1_q2":215,"k1_q3":250},
{"hour":18,"obs_q1":55,"obs_q2":230,"obs_q3":250,"k4_q1":55,"k4_q2":228,"k4_q3":252,"k1_q1":52,"k1_q2":215,"k1_q3":250},
{"hour":19,"obs_q1":60,"obs_q2":222,"obs_q3":250,"k4_q1":50,"k4_q2":225,"k4_q3":255,"k1_q1":52,"k1_q2":220,"k1_q3":268},
{"hour":20,"obs_q1":42,"obs_q2":194,"obs_q3":253,"k4_q1":48,"k4_q2":225,"k4_q3":255,"k1_q1":45,"k1_q2":215,"k1_q3":270},
{"hour":21,"obs_q1":40,"obs_q2":133,"obs_q3":258,"k4_q1":45,"k4_q2":222,"k4_q3":255,"k1_q1":45,"k1_q2":200,"k1_q3":262},
{"hour":22,"obs_q1":48,"obs_q2":159,"obs_q3":253,"k4_q1":45,"k4_q2":182,"k4_q3":250,"k1_q1":48,"k1_q2":165,"k1_q3":255},
{"hour":23,"obs_q1":48,"obs_q2":181,"obs_q3":246,"k4_q1":48,"k4_q2":82,"k4_q3":245,"k1_q1":48,"k1_q2":110,"k1_q3":245}
]
},
"vconcat": [
{"hconcat": [
{"data": {"name": "AND_T2M"}, "width": 274, "height": 254, "title": "AND",
 "encoding": {"x": {"field": "hour", "type": "quantitative", "scale": {"domain": [-1.5, 24.5], "nice": false, "zero": false}, "axis": {"values": [0,1,2,3,4,5,6,7,8,9,10,11,12,13,14,15,16,17,18,19,20,21,22,23], "labels": false, "title": null, "gridOpacity": {"condition": {"test": "datum.value % 4 === 0", "value": 1}, "value": 0}}}},
 "layer": [
  {"mark": {"type": "bar", "size": 8, "opacity": 0.8}, "encoding": {"y": {"field": "obs_q1", "type": "quantitative", "scale": {"domain": [-1.2, 31.2], "nice": false, "zero": false}, "axis": {"values": [0,5,10,15,20,25,30], "title": "T2M (ºC)"}}, "y2": {"field": "obs_q3"}, "color": {"datum": "METAR", "type": "nominal", "scale": {"domain": ["METAR","4km","1km"], "range": ["#9a9a9a","#f2553f","#2fd4d0"]}, "legend": {"title": null, "labelExpr": "datum.label === 'METAR' ? 'METAR (Q1, Q2, Q3) = (14, 16, 19)' : datum.label === '4km' ? '4km (Q1, Q2, Q3) = (12.4, 15.1, 17.5)' : '1km (Q1, Q2, Q3) = (12.3, 15.1, 17.5)'"}}}},
  {"mark": {"type": "bar", "size": 5, "opacity": 0.5}, "encoding": {"y": {"field": "k4_q1", "type": "quantitative"}, "y2": {"field": "k4_q3"}, "color": {"datum": "4km", "type": "nominal"}}},
  {"mark": {"type": "bar", "size": 5, "opacity": 0.5}, "encoding": {"y": {"field": "k1_q1", "type": "quantitative"}, "y2": {"field": "k1_q3"}, "color": {"datum": "1km", "type": "nominal"}}},
  {"mark": {"type": "line", "color": "#40e0e0", "strokeWidth": 1}, "encoding": {"y": {"field": "k1_q2", "type": "quantitative"}}},
  {"mark": {"type": "line", "color": "#f47c6c", "strokeWidth": 1}, "encoding": {"y": {"field": "k4_q2", "type": "quantitative"}}},
  {"mark": {"type": "line", "color": "#111111", "strokeWidth": 1}, "encoding": {"y": {"field": "obs_q2", "type": "quantitative"}}},
  {"mark": {"type": "point", "shape": "square", "filled": true, "size": 20, "opacity": 1, "color": "#1fbfb8"}, "encoding": {"y": {"field": "k1_q2", "type": "quantitative"}}},
  {"mark": {"type": "point", "shape": "square", "filled": true, "size": 20, "opacity": 1, "color": "#d9262b"}, "encoding": {"y": {"field": "k4_q2", "type": "quantitative"}}},
  {"mark": {"type": "point", "shape": "square", "filled": true, "size": 20, "opacity": 1, "color": "#000000"}, "encoding": {"y": {"field": "obs_q2", "type": "quantitative"}}}
 ]},
{"data": {"name": "BCN_T2M"}, "width": 274, "height": 254, "title": "BCN",
 "encoding": {"x": {"field": "hour", "type": "quantitative", "scale": {"domain": [-1.5, 24.5], "nice": false, "zero": false}, "axis": {"values": [0,1,2,3,4,5,6,7,8,9,10,11,12,13,14,15,16,17,18,19,20,21,22,23], "labels": false, "title": null, "gridOpacity": {"condition": {"test": "datum.value % 4 === 0", "value": 1}, "value": 0}}}},
 "layer": [
  {"mark": {"type": "bar", "size": 8, "opacity": 0.8}, "encoding": {"y": {"field": "obs_q1", "type": "quantitative", "scale": {"domain": [-1.2, 31.2], "nice": false, "zero": false}, "axis": {"values": [0,5,10,15,20,25,30], "title": null}}, "y2": {"field": "obs_q3"}, "color": {"datum": "METAR", "type": "nominal", "scale": {"domain": ["METAR","4km","1km"], "range": ["#9a9a9a","#f2553f","#2fd4d0"]}, "legend": {"title": null, "labelExpr": "datum.label === 'METAR' ? 'METAR (Q1, Q2, Q3) = (12.5, 15, 17.5)' : datum.label === '4km' ? '4km (Q1, Q2, Q3) = (11.1, 13.4, 15.7)' : '1km (Q1, Q2, Q3) = (11.4, 13.6, 15.3)'"}}}},
  {"mark": {"type": "bar", "size": 5, "opacity": 0.5}, "encoding": {"y": {"field": "k4_q1", "type": "quantitative"}, "y2": {"field": "k4_q3"}, "color": {"datum": "4km", "type": "nominal"}}},
  {"mark": {"type": "bar", "size": 5, "opacity": 0.5}, "encoding": {"y": {"field": "k1_q1", "type": "quantitative"}, "y2": {"field": "k1_q3"}, "color": {"datum": "1km", "type": "nominal"}}},
  {"mark": {"type": "line", "color": "#40e0e0", "strokeWidth": 1}, "encoding": {"y": {"field": "k1_q2", "type": "quantitative"}}},
  {"mark": {"type": "line", "color": "#f47c6c", "strokeWidth": 1}, "encoding": {"y": {"field": "k4_q2", "type": "quantitative"}}},
  {"mark": {"type": "line", "color": "#111111", "strokeWidth": 1}, "encoding": {"y": {"field": "obs_q2", "type": "quantitative"}}},
  {"mark": {"type": "point", "shape": "square", "filled": true, "size": 20, "opacity": 1, "color": "#1fbfb8"}, "encoding": {"y": {"field": "k1_q2", "type": "quantitative"}}},
  {"mark": {"type": "point", "shape": "square", "filled": true, "size": 20, "opacity": 1, "color": "#d9262b"}, "encoding": {"y": {"field": "k4_q2", "type": "quantitative"}}},
  {"mark": {"type": "point", "shape": "square", "filled": true, "size": 20, "opacity": 1, "color": "#000000"}, "encoding": {"y": {"field": "obs_q2", "type": "quantitative"}}}
 ]},
{"data": {"name": "MAD_T2M"}, "width": 274, "height": 254, "title": "MAD",
 "encoding": {"x": {"field": "hour", "type": "quantitative", "scale": {"domain": [-1.5, 24.5], "nice": false, "zero": false}, "axis": {"values": [0,1,2,3,4,5,6,7,8,9,10,11,12,13,14,15,16,17,18,19,20,21,22,23], "labels": false, "title": null, "gridOpacity": {"condition": {"test": "datum.value % 4 === 0", "value": 1}, "value": 0}}}},
 "layer": [
  {"mark": {"type": "bar", "size": 8, "opacity": 0.8}, "encoding": {"y": {"field": "obs_q1", "type": "quantitative", "scale": {"domain": [-1.2, 31.2], "nice": false, "zero": false}, "axis": {"values": [0,5,10,15,20,25,30], "title": null}}, "y2": {"field": "obs_q3"}, "color": {"datum": "METAR", "type": "nominal", "scale": {"domain": ["METAR","4km","1km"], "range": ["#9a9a9a","#f2553f","#2fd4d0"]}, "legend": {"title": null, "labelExpr": "datum.label === 'METAR' ? 'METAR (Q1, Q2, Q3) = (8.8, 12, 16.5)' : datum.label === '4km' ? '4km (Q1, Q2, Q3) = (6.7, 10.1, 13.9)' : '1km (Q1, Q2, Q3) = (6.9, 10.2, 14)'"}}}},
  {"mark": {"type": "bar", "size": 5, "opacity": 0.5}, "encoding": {"y": {"field": "k4_q1", "type": "quantitative"}, "y2": {"field": "k4_q3"}, "color": {"datum": "4km", "type": "nominal"}}},
  {"mark": {"type": "bar", "size": 5, "opacity": 0.5}, "encoding": {"y": {"field": "k1_q1", "type": "quantitative"}, "y2": {"field": "k1_q3"}, "color": {"datum": "1km", "type": "nominal"}}},
  {"mark": {"type": "line", "color": "#40e0e0", "strokeWidth": 1}, "encoding": {"y": {"field": "k1_q2", "type": "quantitative"}}},
  {"mark": {"type": "line", "color": "#f47c6c", "strokeWidth": 1}, "encoding": {"y": {"field": "k4_q2", "type": "quantitative"}}},
  {"mark": {"type": "line", "color": "#111111", "strokeWidth": 1}, "encoding": {"y": {"field": "obs_q2", "type": "quantitative"}}},
  {"mark": {"type": "point", "shape": "square", "filled": true, "size": 20, "opacity": 1, "color": "#1fbfb8"}, "encoding": {"y": {"field": "k1_q2", "type": "quantitative"}}},
  {"mark": {"type": "point", "shape": "square", "filled": true, "size": 20, "opacity": 1, "color": "#d9262b"}, "encoding": {"y": {"field": "k4_q2", "type": "quantitative"}}},
  {"mark": {"type": "point", "shape": "square", "filled": true, "size": 20, "opacity": 1, "color": "#000000"}, "encoding": {"y": {"field": "obs_q2", "type": "quantitative"}}}
 ]}
], "spacing": 56, "bounds": "flush", "resolve": {"scale": {"color": "independent"}, "legend": {"color": "independent"}}},
{"hconcat": [
{"data": {"name": "AND_U10"}, "width": 274, "height": 254,
 "encoding": {"x": {"field": "hour", "type": "quantitative", "scale": {"domain": [-1.5, 24.5], "nice": false, "zero": false}, "axis": {"values": [0,1,2,3,4,5,6,7,8,9,10,11,12,13,14,15,16,17,18,19,20,21,22,23], "labels": false, "title": null, "gridOpacity": {"condition": {"test": "datum.value % 4 === 0", "value": 1}, "value": 0}}}},
 "layer": [
  {"mark": {"type": "bar", "size": 8, "opacity": 0.8}, "encoding": {"y": {"field": "obs_q1", "type": "quantitative", "scale": {"domain": [-0.4, 10.4], "nice": false, "zero": false}, "axis": {"values": [0,2,4,6,8,10], "title": "U10 (m/s)"}}, "y2": {"field": "obs_q3"}, "color": {"datum": "METAR", "type": "nominal", "scale": {"domain": ["METAR","4km","1km"], "range": ["#9a9a9a","#f2553f","#2fd4d0"]}, "legend": {"title": null, "labelExpr": "datum.label === 'METAR' ? 'METAR (Q1, Q2, Q3) = (1.5, 3.1, 4.9)' : datum.label === '4km' ? '4km (Q1, Q2, Q3) = (2, 3.4, 5.4)' : '1km (Q1, Q2, Q3) = (1.8, 3.3, 5.2)'"}}}},
  {"mark": {"type": "bar", "size": 5, "opacity": 0.5}, "encoding": {"y": {"field": "k4_q1", "type": "quantitative"}, "y2": {"field": "k4_q3"}, "color": {"datum": "4km", "type": "nominal"}}},
  {"mark": {"type": "bar", "size": 5, "opacity": 0.5}, "encoding": {"y": {"field": "k1_q1", "type": "quantitative"}, "y2": {"field": "k1_q3"}, "color": {"datum": "1km", "type": "nominal"}}},
  {"mark": {"type": "line", "color": "#40e0e0", "strokeWidth": 1}, "encoding": {"y": {"field": "k1_q2", "type": "quantitative"}}},
  {"mark": {"type": "line", "color": "#f47c6c", "strokeWidth": 1}, "encoding": {"y": {"field": "k4_q2", "type": "quantitative"}}},
  {"mark": {"type": "line", "color": "#111111", "strokeWidth": 1}, "encoding": {"y": {"field": "obs_q2", "type": "quantitative"}}},
  {"mark": {"type": "point", "shape": "square", "filled": true, "size": 20, "opacity": 1, "color": "#1fbfb8"}, "encoding": {"y": {"field": "k1_q2", "type": "quantitative"}}},
  {"mark": {"type": "point", "shape": "square", "filled": true, "size": 20, "opacity": 1, "color": "#d9262b"}, "encoding": {"y": {"field": "k4_q2", "type": "quantitative"}}},
  {"mark": {"type": "point", "shape": "square", "filled": true, "size": 20, "opacity": 1, "color": "#000000"}, "encoding": {"y": {"field": "obs_q2", "type": "quantitative"}}}
 ]},
{"data": {"name": "BCN_U10"}, "width": 274, "height": 254,
 "encoding": {"x": {"field": "hour", "type": "quantitative", "scale": {"domain": [-1.5, 24.5], "nice": false, "zero": false}, "axis": {"values": [0,1,2,3,4,5,6,7,8,9,10,11,12,13,14,15,16,17,18,19,20,21,22,23], "labels": false, "title": null, "gridOpacity": {"condition": {"test": "datum.value % 4 === 0", "value": 1}, "value": 0}}}},
 "layer": [
  {"mark": {"type": "bar", "size": 8, "opacity": 0.8}, "encoding": {"y": {"field": "obs_q1", "type": "quantitative", "scale": {"domain": [-0.4, 10.4], "nice": false, "zero": false}, "axis": {"values": [0,2,4,6,8,10], "title": null}}, "y2": {"field": "obs_q3"}, "color": {"datum": "METAR", "type": "nominal", "scale": {"domain": ["METAR","4km","1km"], "range": ["#9a9a9a","#f2553f","#2fd4d0"]}, "legend": {"title": null, "labelExpr": "datum.label === 'METAR' ? 'METAR (Q1, Q2, Q3) = (2.1, 3.3, 5.1)' : datum.label === '4km' ? '4km (Q1, Q2, Q3) = (2.3, 3.6, 6.3)' : '1km (Q1, Q2, Q3) = (2.3, 3.9, 6.2)'"}}}},
  {"mark": {"type": "bar", "size": 5, "opacity": 0.5}, "encoding": {"y": {"field": "k4_q1", "type": "quantitative"}, "y2": {"field": "k4_q3"}, "color": {"datum": "4km", "type": "nominal"}}},
  {"mark": {"type": "bar", "size": 5, "opacity": 0.5}, "encoding": {"y": {"field": "k1_q1", "type": "quantitative"}, "y2": {"field": "k1_q3"}, "color": {"datum": "1km", "type": "nominal"}}},
  {"mark": {"type": "line", "color": "#40e0e0", "strokeWidth": 1}, "encoding": {"y": {"field": "k1_q2", "type": "quantitative"}}},
  {"mark": {"type": "line", "color": "#f47c6c", "strokeWidth": 1}, "encoding": {"y": {"field": "k4_q2", "type": "quantitative"}}},
  {"mark": {"type": "line", "color": "#111111", "strokeWidth": 1}, "encoding": {"y": {"field": "obs_q2", "type": "quantitative"}}},
  {"mark": {"type": "point", "shape": "square", "filled": true, "size": 20, "opacity": 1, "color": "#1fbfb8"}, "encoding": {"y": {"field": "k1_q2", "type": "quantitative"}}},
  {"mark": {"type": "point", "shape": "square", "filled": true, "size": 20, "opacity": 1, "color": "#d9262b"}, "encoding": {"y": {"field": "k4_q2", "type": "quantitative"}}},
  {"mark": {"type": "point", "shape": "square", "filled": true, "size": 20, "opacity": 1, "color": "#000000"}, "encoding": {"y": {"field": "obs_q2", "type": "quantitative"}}}
 ]},
{"data": {"name": "MAD_U10"}, "width": 274, "height": 254,
 "encoding": {"x": {"field": "hour", "type": "quantitative", "scale": {"domain": [-1.5, 24.5], "nice": false, "zero": false}, "axis": {"values": [0,1,2,3,4,5,6,7,8,9,10,11,12,13,14,15,16,17,18,19,20,21,22,23], "labels": false, "title": null, "gridOpacity": {"condition": {"test": "datum.value % 4 === 0", "value": 1}, "value": 0}}}},
 "layer": [
  {"mark": {"type": "bar", "size": 8, "opacity": 0.8}, "encoding": {"y": {"field": "obs_q1", "type": "quantitative", "scale": {"domain": [-0.4, 10.4], "nice": false, "zero": false}, "axis": {"values": [0,2,4,6,8,10], "title": null}}, "y2": {"field": "obs_q3"}, "color": {"datum": "METAR", "type": "nominal", "scale": {"domain": ["METAR","4km","1km"], "range": ["#9a9a9a","#f2553f","#2fd4d0"]}, "legend": {"title": null, "labelExpr": "datum.label === 'METAR' ? 'METAR (Q1, Q2, Q3) = (1.8, 3.3, 5.1)' : datum.label === '4km' ? '4km (Q1, Q2, Q3) = (2.3, 4.2, 5.7)' : '1km (Q1, Q2, Q3) = (2.2, 4.1, 5.8)'"}}}},
  {"mark": {"type": "bar", "size": 5, "opacity": 0.5}, "encoding": {"y": {"field": "k4_q1", "type": "quantitative"}, "y2": {"field": "k4_q3"}, "color": {"datum": "4km", "type": "nominal"}}},
  {"mark": {"type": "bar", "size": 5, "opacity": 0.5}, "encoding": {"y": {"field": "k1_q1", "type": "quantitative"}, "y2": {"field": "k1_q3"}, "color": {"datum": "1km", "type": "nominal"}}},
  {"mark": {"type": "line", "color": "#40e0e0", "strokeWidth": 1}, "encoding": {"y": {"field": "k1_q2", "type": "quantitative"}}},
  {"mark": {"type": "line", "color": "#f47c6c", "strokeWidth": 1}, "encoding": {"y": {"field": "k4_q2", "type": "quantitative"}}},
  {"mark": {"type": "line", "color": "#111111", "strokeWidth": 1}, "encoding": {"y": {"field": "obs_q2", "type": "quantitative"}}},
  {"mark": {"type": "point", "shape": "square", "filled": true, "size": 20, "opacity": 1, "color": "#1fbfb8"}, "encoding": {"y": {"field": "k1_q2", "type": "quantitative"}}},
  {"mark": {"type": "point", "shape": "square", "filled": true, "size": 20, "opacity": 1, "color": "#d9262b"}, "encoding": {"y": {"field": "k4_q2", "type": "quantitative"}}},
  {"mark": {"type": "point", "shape": "square", "filled": true, "size": 20, "opacity": 1, "color": "#000000"}, "encoding": {"y": {"field": "obs_q2", "type": "quantitative"}}}
 ]}
], "spacing": 56, "bounds": "flush", "resolve": {"scale": {"color": "independent"}, "legend": {"color": "independent"}}},
{"hconcat": [
{"data": {"name": "AND_WD10"}, "width": 274, "height": 254,
 "encoding": {"x": {"field": "hour", "type": "quantitative", "scale": {"domain": [-1.5, 24.5], "nice": false, "zero": false}, "axis": {"values": [0,1,2,3,4,5,6,7,8,9,10,11,12,13,14,15,16,17,18,19,20,21,22,23], "title": "Hours", "labelExpr": "datum.value % 4 === 0 ? (datum.value < 10 ? '0' + datum.value : '' + datum.value) : ''", "gridOpacity": {"condition": {"test": "datum.value % 4 === 0", "value": 1}, "value": 0}}}},
 "layer": [
  {"mark": {"type": "bar", "size": 8, "opacity": 0.8}, "encoding": {"y": {"field": "obs_q1", "type": "quantitative", "scale": {"domain": [-16, 416], "nice": false, "zero": false}, "axis": {"values": [0,100,200,300,400], "title": "WD10 (deg)"}}, "y2": {"field": "obs_q3"}, "color": {"datum": "METAR", "type": "nominal", "scale": {"domain": ["METAR","4km","1km"], "range": ["#9a9a9a","#f2553f","#2fd4d0"]}, "legend": {"title": null, "labelExpr": "datum.label === 'METAR' ? 'METAR (Q1, Q2, Q3) = (130, 210, 275)' : datum.label === '4km' ? '4km (Q1, Q2, Q3) = (125.6, 225.7, 286.6)' : '1km (Q1, Q2, Q3) = (132.3, 231.1, 288.9)'"}}}},
  {"mark": {"type": "bar", "size": 5, "opacity": 0.5}, "encoding": {"y": {"field": "k4_q1", "type": "quantitative"}, "y2": {"field": "k4_q3"}, "color": {"datum": "4km", "type": "nominal"}}},
  {"mark": {"type": "bar", "size": 5, "opacity": 0.5}, "encoding": {"y": {"field": "k1_q1", "type": "quantitative"}, "y2": {"field": "k1_q3"}, "color": {"datum": "1km", "type": "nominal"}}},
  {"mark": {"type": "line", "color": "#40e0e0", "strokeWidth": 1}, "encoding": {"y": {"field": "k1_q2", "type": "quantitative"}}},
  {"mark": {"type": "line", "color": "#f47c6c", "strokeWidth": 1}, "encoding": {"y": {"field": "k4_q2", "type": "quantitative"}}},
  {"mark": {"type": "line", "color": "#111111", "strokeWidth": 1}, "encoding": {"y": {"field": "obs_q2", "type": "quantitative"}}},
  {"mark": {"type": "point", "shape": "square", "filled": true, "size": 20, "opacity": 1, "color": "#1fbfb8"}, "encoding": {"y": {"field": "k1_q2", "type": "quantitative"}}},
  {"mark": {"type": "point", "shape": "square", "filled": true, "size": 20, "opacity": 1, "color": "#d9262b"}, "encoding": {"y": {"field": "k4_q2", "type": "quantitative"}}},
  {"mark": {"type": "point", "shape": "square", "filled": true, "size": 20, "opacity": 1, "color": "#000000"}, "encoding": {"y": {"field": "obs_q2", "type": "quantitative"}}}
 ]},
{"data": {"name": "BCN_WD10"}, "width": 274, "height": 254,
 "encoding": {"x": {"field": "hour", "type": "quantitative", "scale": {"domain": [-1.5, 24.5], "nice": false, "zero": false}, "axis": {"values": [0,1,2,3,4,5,6,7,8,9,10,11,12,13,14,15,16,17,18,19,20,21,22,23], "title": "Hours", "labelExpr": "datum.value % 4 === 0 ? (datum.value < 10 ? '0' + datum.value : '' + datum.value) : ''", "gridOpacity": {"condition": {"test": "datum.value % 4 === 0", "value": 1}, "value": 0}}}},
 "layer": [
  {"mark": {"type": "bar", "size": 8, "opacity": 0.8}, "encoding": {"y": {"field": "obs_q1", "type": "quantitative", "scale": {"domain": [-16, 416], "nice": false, "zero": false}, "axis": {"values": [0,100,200,300,400], "title": null}}, "y2": {"field": "obs_q3"}, "color": {"datum": "METAR", "type": "nominal", "scale": {"domain": ["METAR","4km","1km"], "range": ["#9a9a9a","#f2553f","#2fd4d0"]}, "legend": {"title": null, "labelExpr": "datum.label === 'METAR' ? 'METAR (Q1, Q2, Q3) = (90, 190, 275)' : datum.label === '4km' ? '4km (Q1, Q2, Q3) = (77.7, 204.5, 287.6)' : '1km (Q1, Q2, Q3) = (66.5, 199.5, 289)'"}}}},
  {"mark": {"type": "bar", "size": 5, "opacity": 0.5}, "encoding": {"y": {"field": "k4_q1", "type": "quantitative"}, "y2": {"field": "k4_q3"}, "color": {"datum": "4km", "type": "nominal"}}},
  {"mark": {"type": "bar", "size": 5, "opacity": 0.5}, "encoding": {"y": {"field": "k1_q1", "type": "quantitative"}, "y2": {"field": "k1_q3"}, "color": {"datum": "1km", "type": "nominal"}}},
  {"mark": {"type": "line", "color": "#40e0e0", "strokeWidth": 1}, "encoding": {"y": {"field": "k1_q2", "type": "quantitative"}}},
  {"mark": {"type": "line", "color": "#f47c6c", "strokeWidth": 1}, "encoding": {"y": {"field": "k4_q2", "type": "quantitative"}}},
  {"mark": {"type": "line", "color": "#111111", "strokeWidth": 1}, "encoding": {"y": {"field": "obs_q2", "type": "quantitative"}}},
  {"mark": {"type": "point", "shape": "square", "filled": true, "size": 20, "opacity": 1, "color": "#1fbfb8"}, "encoding": {"y": {"field": "k1_q2", "type": "quantitative"}}},
  {"mark": {"type": "point", "shape": "square", "filled": true, "size": 20, "opacity": 1, "color": "#d9262b"}, "encoding": {"y": {"field": "k4_q2", "type": "quantitative"}}},
  {"mark": {"type": "point", "shape": "square", "filled": true, "size": 20, "opacity": 1, "color": "#000000"}, "encoding": {"y": {"field": "obs_q2", "type": "quantitative"}}}
 ]},
{"data": {"name": "MAD_WD10"}, "width": 274, "height": 254,
 "encoding": {"x": {"field": "hour", "type": "quantitative", "scale": {"domain": [-1.5, 24.5], "nice": false, "zero": false}, "axis": {"values": [0,1,2,3,4,5,6,7,8,9,10,11,12,13,14,15,16,17,18,19,20,21,22,23], "title": "Hours", "labelExpr": "datum.value % 4 === 0 ? (datum.value < 10 ? '0' + datum.value : '' + datum.value) : ''", "gridOpacity": {"condition": {"test": "datum.value % 4 === 0", "value": 1}, "value": 0}}}},
 "layer": [
  {"mark": {"type": "bar", "size": 8, "opacity": 0.8}, "encoding": {"y": {"field": "obs_q1", "type": "quantitative", "scale": {"domain": [-16, 416], "nice": false, "zero": false}, "axis": {"values": [0,100,200,300,400], "title": null}}, "y2": {"field": "obs_q3"}, "color": {"datum": "METAR", "type": "nominal", "scale": {"domain": ["METAR","4km","1km"], "range": ["#9a9a9a","#f2553f","#2fd4d0"]}, "legend": {"title": null, "labelExpr": "datum.label === 'METAR' ? 'METAR (Q1, Q2, Q3) = (55, 190, 240)' : datum.label === '4km' ? '4km (Q1, Q2, Q3) = (44.7, 152, 245)' : '1km (Q1, Q2, Q3) = (45.1, 168.9, 245.5)'"}}}},
  {"mark": {"type": "bar", "size": 5, "opacity": 0.5}, "encoding": {"y": {"field": "k4_q1", "type": "quantitative"}, "y2": {"field": "k4_q3"}, "color": {"datum": "4km", "type": "nominal"}}},
  {"mark": {"type": "bar", "size": 5, "opacity": 0.5}, "encoding": {"y": {"field": "k1_q1", "type": "quantitative"}, "y2": {"field": "k1_q3"}, "color": {"datum": "1km", "type": "nominal"}}},
  {"mark": {"type": "line", "color": "#40e0e0", "strokeWidth": 1}, "encoding": {"y": {"field": "k1_q2", "type": "quantitative"}}},
  {"mark": {"type": "line", "color": "#f47c6c", "strokeWidth": 1}, "encoding": {"y": {"field": "k4_q2", "type": "quantitative"}}},
  {"mark": {"type": "line", "color": "#111111", "strokeWidth": 1}, "encoding": {"y": {"field": "obs_q2", "type": "quantitative"}}},
  {"mark": {"type": "point", "shape": "square", "filled": true, "size": 20, "opacity": 1, "color": "#1fbfb8"}, "encoding": {"y": {"field": "k1_q2", "type": "quantitative"}}},
  {"mark": {"type": "point", "shape": "square", "filled": true, "size": 20, "opacity": 1, "color": "#d9262b"}, "encoding": {"y": {"field": "k4_q2", "type": "quantitative"}}},
  {"mark": {"type": "point", "shape": "square", "filled": true, "size": 20, "opacity": 1, "color": "#000000"}, "encoding": {"y": {"field": "obs_q2", "type": "quantitative"}}}
 ]}
], "spacing": 56, "bounds": "flush", "resolve": {"scale": {"color": "independent"}, "legend": {"color": "independent"}}}
],
"config": {
 "font": "Liberation Sans",
 "view": {"stroke": "#555555", "strokeWidth": 1},
 "title": {"fontSize": 19, "fontWeight": "bold", "offset": 24, "color": "#111111", "anchor": "middle", "font": "Liberation Sans"},
 "axis": {"domain": false, "tickColor": "#555555", "tickSize": 7, "labelColor": "#333333", "titleColor": "#222222", "grid": true, "gridColor": "#d4d4d4", "gridDash": [1, 3], "labelFont": "Liberation Sans", "titleFont": "Liberation Sans", "titleFontWeight": "normal"},
 "axisX": {"labelFontSize": 16, "titleFontSize": 16, "labelPadding": 13, "titlePadding": 12, "labelOverlap": false, "labelFlush": false, "labelAngle": 0},
 "axisY": {"labelFontSize": 15, "labelAngle": 270, "labelAlign": "center", "labelBaseline": "alphabetic", "labelPadding": 8, "titleFontSize": 22, "titlePadding": 14},
 "legend": {"orient": "top-left", "offset": 9, "symbolType": "M-1,-1H1V1H-1Z M1,-0.15H6.6V0.15H1Z", "symbolSize": 56, "symbolOpacity": 1, "symbolStrokeWidth": 0, "labelFontSize": 11.5, "labelOffset": 33, "rowPadding": 1, "labelColor": "#333333", "padding": 0, "labelLimit": 400, "labelFont": "Liberation Sans"}
}
}
